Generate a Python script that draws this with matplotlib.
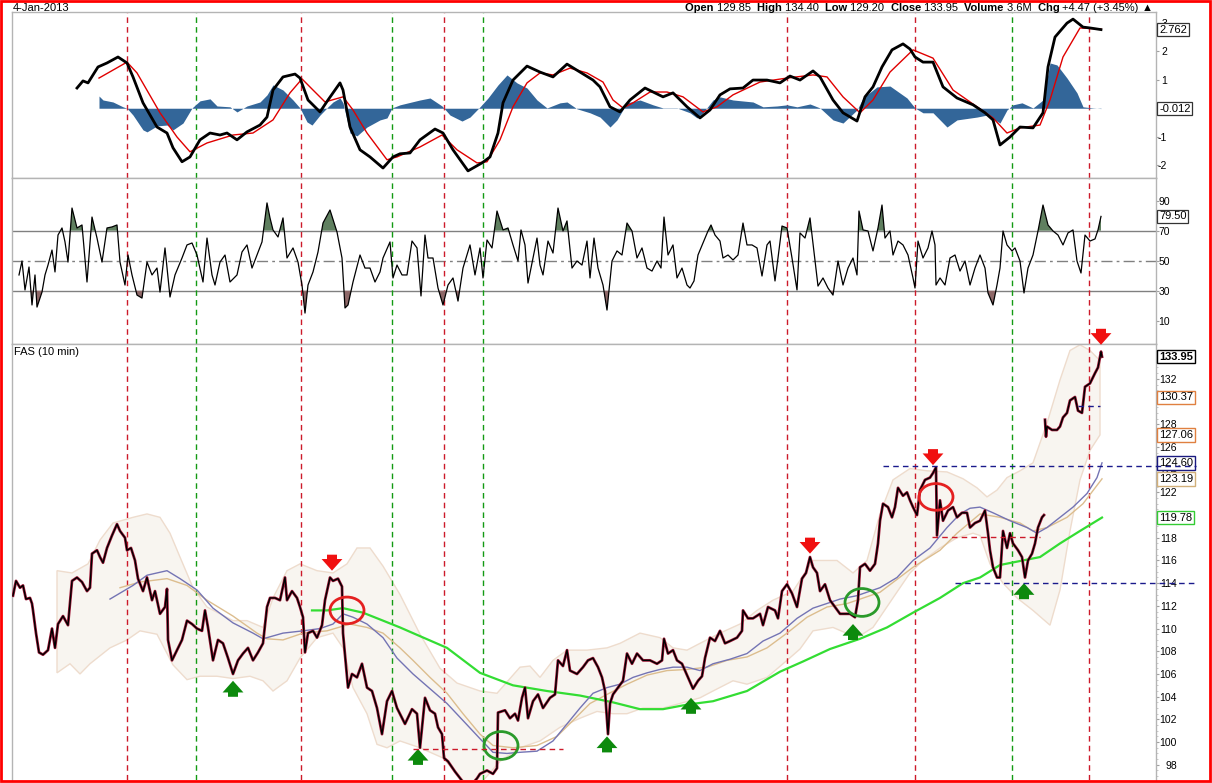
import numpy as np
import matplotlib
matplotlib.use('Agg')
import matplotlib.pyplot as plt
from matplotlib.patches import Ellipse, Rectangle

plt.rcParams['font.family'] = ['Liberation Sans', 'DejaVu Sans']

# ---------------- data ----------------
macd = [(77,0.71),(83,0.96),(88,0.89),(98,1.45),(107,1.59),(118,1.80),(127,1.59),(133,1.10),(143,0.19),
        (157,-0.66),(167,-0.87),(173,-1.39),(182,-1.88),(190,-1.71),(200,-1.11),(210,-0.87),(220,-0.94),
        (227,-0.87),(237,-1.11),(247,-0.83),(260,-0.59),(267,-0.31),(273,0.64),(283,1.10),(295,1.20),
        (300,1.06),(308,0.29),(320,-0.13),(328,0.29),(340,0.89),(343,0.64),(350,-0.66),(360,-1.46),
        (370,-1.71),(383,-2.10),(393,-1.71),(400,-1.60),(410,-1.57),(420,-1.11),(435,-0.73),(443,-0.87),
        (453,-1.46),(468,-2.20),(482,-1.92),(490,-1.71),(498,-0.87),(503,0.19),(513,0.99),(527,1.48),
        (540,1.27),(553,1.10),(567,1.55),(580,1.27),(593,0.99),(600,0.75),(610,0.05),(620,-0.13),
        (630,0.29),(645,0.71),(663,0.40),(673,0.54),(687,0.05),(700,-0.34),(710,-0.06),(720,0.47),
        (730,0.68),(743,0.71),(753,0.99),(767,0.99),(780,0.89),(790,1.13),(800,0.99),(813,1.31),
        (820,1.10),(833,0.29),(843,-0.16),(857,-0.45),(865,0.40),(873,0.75),(882,1.45),(892,2.05),
        (903,2.26),(910,2.08),(915,1.80),(923,1.62),(933,1.62),(943,0.75),(957,0.36),(973,0.12),
        (985,-0.16),(993,-0.41),(1000,-1.29),(1010,-1.01),(1020,-0.66),(1033,-0.69),(1043,-0.16),
        (1048,1.45),(1055,2.50),(1067,2.99),(1073,3.13),(1083,2.85),(1090,2.82),(1101,2.762)]

signal = [(99,1.06),(127,1.62),(137,1.24),(160,-0.16),(177,-1.01),(190,-1.53),(207,-1.22),(233,-0.94),
          (253,-0.87),(273,-0.41),(290,0.54),(302,1.03),(313,0.64),(325,0.22),(343,0.40),(353,-0.06),
          (367,-0.87),(387,-1.81),(397,-1.71),(420,-1.36),(442,-0.94),(457,-1.46),(477,-1.92),
          (487,-1.88),(500,-1.11),(513,0.05),(527,0.89),(540,1.24),(553,1.17),(570,1.41),(587,1.24),
          (603,0.92),(613,0.29),(623,0.01),(633,0.19),(650,0.57),(667,0.57),(683,0.40),(703,-0.13),
          (717,0.05),(733,0.47),(760,0.92),(787,1.06),(813,1.17),(827,1.10),(843,0.40),(860,-0.16),
          (873,0.29),(890,1.27),(913,2.05),(933,1.76),(953,0.64),(977,0.05),(993,-0.34),(1007,-0.87),
          (1020,-0.69),(1040,-0.59),(1050,0.29),(1063,1.80),(1080,2.82),(1101,2.78)]

histogram = [(99,0.43),(103,0.29),(113,0.22),(123,0.05),(127,0.0),(133,-0.24),(143,-0.76),(147,-0.83),
             (157,-0.62),(167,-0.59),(173,-0.76),(183,-0.52),(192,0.01),(200,0.26),(210,0.33),(217,0.08),
             (230,0.05),(237,-0.13),(247,0.08),(260,0.22),(267,0.47),(273,0.82),(283,0.64),(293,0.29),
             (300,0.01),(307,-0.48),(312,-0.59),(320,-0.24),(328,0.05),(333,0.22),(340,0.36),(343,0.19),
             (350,-0.87),(357,-0.97),(367,-0.66),(380,-0.41),(387,-0.34),(392,0.01),(400,0.12),(420,0.29),
             (430,0.36),(442,0.08),(450,-0.24),(462,-0.45),(470,-0.31),(480,0.05),(488,0.36),(498,0.82),
             (507,1.17),(517,0.89),(527,0.71),(537,0.29),(547,0.01),(560,0.19),(567,0.22),(577,-0.02),
             (590,-0.16),(600,-0.31),(610,-0.66),(617,-0.41),(627,0.19),(640,0.29),(653,0.12),(663,0.01),
             (677,0.01),(690,-0.16),(697,-0.34),(703,-0.16),(713,0.29),(720,0.40),(733,0.29),(753,0.22),
             (763,0.05),(777,0.08),(787,0.12),(797,0.05),(810,0.15),(820,0.01),(833,-0.41),(843,-0.52),
             (857,-0.06),(863,0.36),(877,0.75),(890,0.78),(907,0.36),(915,0.01),(923,-0.16),(933,-0.16),
             (947,-0.66),(957,-0.41),(977,-0.31),(987,-0.24),(1000,-0.52),(1007,-0.06),(1013,0.12),
             (1022,0.19),(1033,0.01),(1043,0.29),(1050,1.59),(1057,1.52),(1067,1.06),(1077,0.54),
             (1083,0.05),(1093,0.01),(1101,-0.012)]

rsi = [(19,40.5),(22,49.8),(25,30.5),(29,45.8),(32,20.5),(35,40.5),(37,19.1),(42,29.1),(45,40.5),(48,47.1),
       (52,57.1),(55,42.5),(58,67.1),(62,71.8),(65,62.5),(68,49.1),(72,85.1),(77,71.8),(82,73.8),(87,35.8),
       (92,79.1),(97,65.1),(102,49.1),(107,71.8),(112,72.5),(117,73.8),(120,49.1),(125,33.8),(128,53.8),
       (132,40.5),(137,27.1),(142,25.1),(147,49.1),(152,40.5),(157,45.1),(160,29.1),(165,58.5),(170,25.8),
       (175,40.5),(182,51.8),(187,60.5),(192,61.8),(197,53.8),(203,35.8),(207,65.1),(212,40.5),(215,33.8),
       (220,49.1),(225,53.8),(230,35.8),(237,40.5),(242,55.8),(247,60.5),(252,45.1),(257,53.8),(262,62.5),
       (267,88.5),(270,78.5),(273,70.5),(278,65.8),(283,78.5),(287,51.8),(293,58.5),(298,49.1),(302,33.8),
       (305,15.1),(308,33.8),(313,42.5),(318,55.8),(323,75.1),(330,83.8),(337,69.1),(342,51.8),(345,18.5),
       (348,20.5),(353,35.8),(360,53.8),(365,45.1),(370,45.1),(375,35.8),(380,42.5),(383,51.8),(390,62.5),
       (393,38.5),(397,47.1),(402,40.5),(407,40.5),(412,63.1),(417,58.5),(421,26.5),(425,67.1),(428,51.8),
       (433,51.8),(438,31.8),(443,20.5),(448,33.8),(453,38.5),(458,23.1),(463,45.1),(470,60.5),(475,40.5),
       (480,58.5),(483,38.5),(487,63.8),(492,58.5),(497,83.1),(503,70.5),(508,71.8),(513,60.5),(518,49.8),
       (521,70.5),(525,60.5),(528,35.1),(533,51.8),(537,65.1),(540,47.1),(543,40.5),(548,63.1),(553,55.1),
       (558,85.1),(563,69.8),(567,76.5),(572,45.1),(577,49.8),(582,47.1),(587,63.1),(590,38.5),(594,65.1),
       (598,45.1),(603,33.8),(607,17.1),(612,49.8),(617,56.5),(622,53.8),(627,75.1),(632,69.8),(637,51.8),
       (642,58.5),(647,45.1),(652,43.1),(657,49.8),(661,45.1),(664,79.1),(668,53.8),(673,60.5),(677,38.5),
       (682,45.1),(687,33.8),(690,31.8),(694,36.5),(698,53.8),(703,61.8),(708,69.8),(711,73.8),(715,67.1),
       (720,63.1),(723,51.8),(728,53.8),(733,50.5),(738,53.8),(743,75.1),(747,60.5),(752,60.5),(757,58.5),
       (762,39.8),(767,60.5),(770,63.1),(775,36.5),(778,51.8),(782,73.1),(787,71.8),(792,51.8),(797,30.5),
       (800,68.5),(805,65.1),(810,78.5),(815,49.8),(818,33.1),(823,38.5),(828,31.8),(833,27.1),(838,49.8),
       (843,33.8),(848,45.1),(853,51.8),(857,40.5),(859,83.1),(863,70.5),(868,69.8),(873,56.5),(878,71.8),
       (882,87.1),(885,65.1),(890,69.8),(893,53.8),(898,63.1),(903,60.5),(908,53.8),(913,38.5),(915,31.8),
       (918,63.1),(923,51.8),(928,58.5),(932,69.8),(935,60.5),(936,33.8),(940,38.5),(945,33.8),(950,51.8),
       (955,53.8),(960,43.1),(965,49.8),(970,33.8),(975,45.1),(980,53.8),(985,45.1),(988,28.5),(993,20.5),
       (997,33.8),(1000,45.1),(1003,69.8),(1007,60.5),(1012,56.5),(1015,58.5),(1020,49.8),(1024,28.5),
       (1028,45.1),(1033,53.8),(1038,69.8),(1043,87.1),(1048,73.8),(1053,69.8),(1058,67.1),(1063,60.5),
       (1068,68.5),(1073,70.5),(1077,49.8),(1081,41.8),(1085,67.1),(1090,63.1),(1095,64.5),(1098,70.5),
       (1101,79.5)]

price_a = [(13,112.9),(16,114.2),(20,113.6),(23,113.8),(26,112.6),(30,112.7),(32,112.2),(33,111.6),(36,109.6),
           (39,107.9),(43,107.7),(48,108.1),(52,110.0),(55,108.3),(58,110.4),(63,111.1),(68,110.3),(72,114.2),
           (77,114.5),(82,114.1),(87,113.3),(90,113.6),(92,116.6),(97,116.9),(100,116.3),(103,115.8),(107,117.1),
           (112,118.2),(117,119.2),(120,118.6),(125,118.0),(127,116.9),(131,117.1),(135,116.0),(138,114.4),
           (143,113.3),(147,114.5),(152,112.5),(155,113.3),(160,111.3),(165,111.9),(167,113.5),(168,109.0),
           (172,107.2),(177,108.1),(182,109.0),(187,110.7),(192,110.4),(197,110.0),(202,109.8),(205,111.6),
           (208,110.1),(213,107.2),(218,109.0),(223,108.7),(228,107.4),(233,106.0),(238,107.2),(243,107.8),
           (248,108.3),(253,107.2),(258,107.9),(263,108.7),(267,111.9),(270,112.7),(275,112.7),(280,112.5),
           (285,114.5),(287,112.5),(292,113.3),(297,112.7),(300,111.9),(303,111.0),(305,107.9),(308,109.6),
           (313,109.8),(317,109.2),(322,110.3),(325,112.5),(330,114.5),(333,114.2),(338,114.4),(342,113.7),
           (343,109.6),(348,104.8),(352,106.0),(357,105.7),(362,106.9),(367,104.8),(372,104.5),(377,103.0),
           (382,100.7),(387,103.6),(392,104.5),(397,103.0),(405,101.6),(412,102.9),(417,102.5),(420,99.5),
           (425,103.9),(430,102.8),(435,102.5),(438,101.3),(442,100.7),(444,98.6),(448,98.3),(455,97.4),
           (462,96.6),(470,96.1),(477,96.8),(480,97.2),(487,97.5),(493,97.2),(497,97.7),(498,102.6),
           (505,102.8),(510,102.1),(515,102.5),(518,101.9),(522,103.9),(525,104.8),(528,102.1),(533,103.6),
           (538,104.2),(543,103.0),(550,103.9),(555,104.2),(558,107.2),(563,106.7),(567,108.1),(570,106.3),
           (577,106.0),(583,106.6),(588,107.2),(593,107.4),(598,106.6),(602,105.7),(605,104.5),(608,100.7),
           (610,103.4),(613,104.2),(618,104.8),(623,105.4),(627,107.8),(632,106.9),(637,107.8),(643,107.2),
           (650,107.2),(657,106.9),(662,107.2),(664,109.1),(668,107.8),(673,108.1),(677,107.2),(682,106.9),
           (688,105.7),(693,104.7),(698,105.4),(702,105.8),(705,107.4),(710,109.2),(715,108.9),(720,109.8),
           (725,108.7),(730,108.9),(737,109.2),(742,109.8),(743,111.6),(748,110.9),(753,110.9),(760,111.3),
           (763,110.3),(768,111.9),(775,111.6),(778,110.9),(782,113.3),(787,113.9),(792,113.1),(797,111.9),
           (802,114.4),(806,114.9),(810,116.3),(813,115.4),(817,114.9),(820,113.3),(825,113.9),(830,112.5),
           (835,111.9),(840,111.3),(845,111.3),(850,111.3),(855,111.0),(858,112.5),(860,115.4),(865,115.7),
           (870,115.1),(875,115.7),(878,117.5),(880,119.5),(883,121.0),(888,120.7),(892,119.8),(895,120.7),
           (898,122.4),(903,121.7),(907,122.0),(910,121.3),(913,120.7),(917,120.0),(920,122.2),(925,123.1),
           (930,123.3),(933,123.7),(936,124.2),(937,118.2),(940,121.3),(943,119.5),(948,120.4),(953,120.7),
           (957,119.8),(962,120.2),(967,120.2),(970,118.9),(975,119.3),(980,119.5),(985,120.4),(988,118.4),
           (990,116.9),(993,115.4),(997,114.5),(1000,114.5),(1003,118.6),(1007,117.1),(1010,118.4),
           (1013,117.5),(1018,116.9),(1022,116.3),(1025,114.5),(1028,116.0),(1032,116.6),(1035,117.5),
           (1038,118.9),(1042,119.8),(1044,120.0)]
price_b = [(1045,128.4),(1046,126.9),(1047,127.8),(1052,127.5),(1057,127.5),(1060,127.8),(1063,128.6),
           (1067,129.0),(1070,130.1),(1075,130.4),(1078,129.2),(1082,129.0),(1085,131.3),(1090,131.6),
           (1095,132.5),(1098,133.0),(1101,134.4),(1102,133.95)]

ma_blue = [(110,112.6),(133,113.8),(147,114.7),(167,115.1),(180,114.4),(197,113.4),(213,111.8),(233,110.5),
           (253,109.6),(263,109.1),(283,109.6),(303,109.8),(320,110.0),(333,110.4),(343,111.3),(353,111.0),
           (367,110.4),(383,109.2),(397,107.4),(413,106.0),(430,104.7),(447,103.4),(463,101.9),(480,100.3),
           (493,99.1),(507,99.0),(520,99.1),(537,99.2),(553,100.1),(567,101.6),(580,103.0),(593,104.3),
           (607,104.8),(620,105.1),(633,105.7),(647,106.1),(660,106.4),(673,106.6),(687,106.6),(700,106.3),
           (713,106.9),(730,107.3),(747,107.8),(763,108.9),(780,109.6),(797,110.9),(813,111.8),(830,112.3),
           (840,112.6),(857,112.9),(880,113.6),(897,114.5),(913,116.0),(930,117.1),(947,118.9),(960,120.1),
           (970,120.6),(980,120.7),(993,120.2),(1010,119.5),(1027,118.9),(1037,118.4),(1047,118.9),
           (1060,119.8),(1073,120.7),(1087,121.9),(1097,123.3),(1102,124.6)]

ma_tan = [(120,113.6),(140,114.1),(167,114.4),(187,113.8),(207,112.5),(233,111.1),(257,109.6),(267,109.1),
          (283,109.0),(303,109.6),(327,109.8),(350,110.4),(367,110.1),(383,109.6),(400,108.3),(413,107.2),
          (430,105.7),(447,104.3),(463,102.5),(480,100.7),(493,99.7),(513,99.5),(537,99.7),(557,100.5),
          (573,101.9),(590,103.4),(607,104.2),(627,105.1),(647,105.9),(667,106.3),(687,106.4),(707,106.6),
          (727,107.2),(747,107.5),(767,108.3),(787,109.6),(807,111.0),(827,111.9),(847,112.2),(880,113.2),
          (913,115.4),(940,116.9),(957,118.4),(980,120.1),(1000,119.8),(1020,119.3),(1033,118.6),(1047,118.9),
          (1067,119.8),(1083,121.0),(1102,123.19)]

ma_green = [(312,111.6),(327,111.6),(343,111.8),(363,111.4),(383,110.7),(400,110.1),(413,109.6),(447,108.3),
            (480,106.1),(513,105.0),(547,104.5),(580,104.1),(613,103.5),(640,102.9),(663,102.9),(687,103.3),
            (713,103.6),(747,104.5),(780,106.2),(803,107.1),(830,108.2),(860,109.1),(887,110.1),(913,111.4),
            (940,112.7),(963,114.0),(980,114.5),(1000,115.6),(1040,116.3),(1060,117.5),(1080,118.6),(1102,119.78)]

bb_upper = [(57,115.1),(72,114.9),(88,115.7),(100,117.8),(113,119.3),(133,119.8),(147,120.1),(160,119.8),
            (170,118.4),(180,116.3),(193,113.6),(207,111.9),(220,111.3),(233,110.7),(247,110.7),(263,110.1),
            (273,112.7),(287,115.1),(300,115.7),(317,115.1),(333,114.9),(347,115.7),(357,117.1),(370,117.1),
            (383,115.5),(400,113.0),(420,109.5),(440,106.5),(457,105.2),(480,104.5),(497,104.3),(520,106.6),
            (530,106.7),(540,105.7),(553,107.2),(567,108.1),(587,108.1),(607,108.3),(620,108.7),(640,109.6),
            (660,109.2),(673,108.3),(687,108.1),(700,108.7),(720,109.6),(740,110.4),(757,111.6),(773,112.5),
            (793,113.3),(813,116.0),(837,116.0),(853,114.9),(867,116.0),(880,120.1),(893,123.1),(910,124.1),
            (927,123.9),(947,123.8),(963,123.2),(977,122.4),(987,121.6),(997,122.2),(1007,123.3),(1020,123.9),
            (1033,124.6),(1047,128.1),(1060,131.9),(1070,134.5),(1080,135.0),(1090,134.5),(1100,133.6)]

bb_lower = [(57,106.1),(70,106.9),(80,106.0),(90,106.9),(110,108.3),(127,109.0),(140,109.8),(157,109.5),
            (173,106.8),(187,105.5),(200,105.8),(217,105.8),(233,105.6),(250,105.8),(263,105.4),(273,104.5),
            (287,105.4),(300,107.4),(317,109.2),(333,109.6),(343,108.3),(353,104.8),(367,102.5),(377,99.8),
            (387,99.5),(400,100.1),(420,99.5),(443,98.6),(463,96.6),(483,96.6),(500,98.3),(520,99.5),
            (540,100.1),(560,101.3),(580,102.1),(597,102.7),(613,102.5),(627,102.5),(643,103.0),(663,103.0),
            (680,103.4),(700,103.9),(713,104.5),(733,105.4),(747,105.1),(767,105.7),(787,107.2),(800,108.2),
            (813,109.8),(833,110.1),(857,109.2),(873,110.1),(893,112.7),(910,114.9),(923,116.0),(940,117.1),
            (957,118.0),(973,118.4),(980,118.2),(990,115.7),(1003,114.0),(1017,112.7),(1033,111.6),
            (1050,110.3),(1060,113.4),(1070,118.6),(1080,123.1),(1090,125.7),(1100,127.06)]

red_vlines = [127, 301, 444, 787, 915, 1089]
green_vlines = [196, 392, 483, 1012]

sell_x = [332, 810, 933, 1101]
sell_y = [115.1, 116.6, 124.4, 135.0]
buy_x = [233, 418, 607, 691, 853, 1024]
buy_y = [105.4, 99.4, 100.5, 103.9, 110.4, 114.0]

red_circles = [(347, 111.6), (936, 121.6)]
green_circles = [(501, 99.7), (862, 112.3)]

red_levels = [(413, 563, 99.4), (932, 1040, 118.1)]
blue_levels = [(883, 1196, 124.3), (955, 1196, 114.0), (1078, 1100, 129.6)]

price_ticks = [98, 100, 102, 104, 106, 108, 110, 112, 114, 116, 118, 122, 124, 126, 128, 132]
macd_ticks = [-2, -1, 1, 2, 3]
rsi_ticks = [10, 30, 50, 70, 90]

price_tags = [(133.95, '133.95', 'black', True),
              (130.37, '130.37', '#e08040', False), (127.06, '127.06', '#e08040', False),
              (124.60, '124.60', '#1a1a80', False), (123.19, '123.19', '#d2b07a', False),
              (119.78, '119.78', '#33cc33', False)]
macd_tags = [(2.762, '2.762'), (-0.012, '-0.012')]
rsi_tags = [(79.50, '79.50')]

header = [('Open ', True), ('129.85  ', False), ('High ', True), ('134.40  ', False), ('Low ', True),
          ('129.20  ', False), ('Close ', True), ('133.95  ', False), ('Volume ', True), ('3.6M  ', False),
          ('Chg ', True), ('+4.47 (+3.45%) ', False), ('\u25b2', False)]


def xy(pairs):
    a = np.array(pairs, dtype=float)
    return a[:, 0], a[:, 1]


# ---------------- figure ----------------
W, H = 1212, 783
fig = plt.figure(figsize=(W / 100, H / 100), dpi=100)
fig.patch.set_facecolor('white')


def px_axes(x0, y0, x1, y1):
    return fig.add_axes([x0 / W, 1 - y1 / H, (x1 - x0) / W, (y1 - y0) / H])


ax1 = px_axes(12, 12, 1156, 178)
ax2 = px_axes(12, 178, 1156, 344)
ax3 = px_axes(12, 344, 1156, 780)

DASH = (0, (4, 3))
for ax in (ax1, ax2, ax3):
    ax.set_xlim(12, 1156)
    ax.set_xticks([])
    ax.yaxis.tick_right()
    for s in ax.spines.values():
        s.set_color('#b4b4b4')
        s.set_linewidth(1)
    for xv in red_vlines:
        ax.axvline(xv, color='#cc1a2a', lw=1, ls=DASH, zorder=1.6)
    for xv in green_vlines:
        ax.axvline(xv, color='#139a13', lw=1, ls=DASH, zorder=1.6)
ax3.spines['bottom'].set_visible(False)

# ---- MACD panel ----
ax1.set_ylim(-2.45, 3.38)
hx, hv = xy(histogram)
ax1.fill_between(hx, 0, hv, color='#336699', lw=0, zorder=2)
sx, sv = xy(signal)
ax1.plot(sx, sv, color='#e00000', lw=1.0, zorder=3)
mx, mv = xy(macd)
ax1.plot(mx, mv, color='black', lw=2.0, zorder=4)
ax1.set_yticks(macd_ticks, labels=[str(v) for v in macd_ticks], ha='right')
ax1.tick_params(axis='y', colors='#a0a0a0', labelcolor='black', labelsize=7.5, length=2, width=0.8, pad=6)
for v, t in macd_tags:
    ax1.annotate(t, xy=(1, v), xycoords=('axes fraction', 'data'), xytext=(3, 0),
                 textcoords='offset pixels', ha='left', va='center', fontsize=8,
                 bbox=dict(boxstyle='square,pad=0.15', fc='white', ec='#333333', lw=0.9),
                 annotation_clip=False, zorder=6)

# ---- RSI panel ----
ax2.set_ylim(-5.5, 105.1)
for lvl in (70, 30):
    ax2.axhline(lvl, color='#808080', lw=1, zorder=1.5)
ax2.axhline(50, color='#808080', lw=1, ls=(0, (8, 3, 2, 3)), zorder=1.5)
rx, rv = xy(rsi)
ax2.fill_between(rx, rv, 70, where=rv > 70, interpolate=True, color='#5f7f5f', lw=0, zorder=2)
ax2.fill_between(rx, rv, 30, where=rv < 30, interpolate=True, color='#8e6868', lw=0, zorder=2)
ax2.plot(rx, rv, color='black', lw=0.9, zorder=3)
ax2.set_yticks(rsi_ticks, labels=[str(v) for v in rsi_ticks], ha='right')
ax2.tick_params(axis='y', colors='#a0a0a0', labelcolor='black', labelsize=7.5, length=2, width=0.8, pad=8)
for v, t in rsi_tags:
    ax2.annotate(t, xy=(1, v), xycoords=('axes fraction', 'data'), xytext=(3, 0),
                 textcoords='offset pixels', ha='left', va='center', fontsize=8,
                 bbox=dict(boxstyle='square,pad=0.15', fc='white', ec='#333333', lw=0.9),
                 annotation_clip=False, zorder=6)

# ---- price panel ----
ax3.set_ylim(96.66, 135.07)
ux, uv = xy(bb_upper)
lx, lv = xy(bb_lower)
ax3.fill(np.r_[ux, lx[::-1]], np.r_[uv, lv[::-1]], fc='#f8f5f0', ec='#eedccd', lw=1, zorder=1)

gx, gv = xy(ma_green)
ax3.plot(gx, gv, color='#33dd33', lw=1.6, zorder=2.2)
tx, tv = xy(ma_tan)
ax3.plot(tx, tv, color='#dcbd8e', lw=1.0, zorder=2.1)
bx, bv = xy(ma_blue)
ax3.plot(bx, bv, color='#7474b4', lw=1.0, zorder=2.2)

for seg in (price_a, price_b):
    px_, pv_ = xy(seg)
    ax3.plot(px_, pv_, color='#a01838', lw=2.0, zorder=3)
    ax3.plot(px_, pv_, color='black', lw=1.0, zorder=3.1)

for x0, x1, yv in red_levels:
    ax3.plot([x0, x1], [yv, yv], color='#cc1a2a', lw=1, ls=DASH, zorder=6, clip_on=False)
for x0, x1, yv in blue_levels:
    ax3.plot([x0, x1], [yv, yv], color='#1a1a8c', lw=1, ls=DASH, zorder=6, clip_on=False)

arrow_style = 'simple,head_width=0.75,head_length=0.42,tail_width=0.36'
for x, y in zip(sell_x, sell_y):
    ax3.annotate('', xy=(x, y), xytext=(0, 16), textcoords='offset pixels',
                 arrowprops=dict(arrowstyle=arrow_style, fc='#f01010', ec='#f01010', lw=0,
                                 mutation_scale=20, shrinkA=0, shrinkB=0),
                 annotation_clip=False, zorder=5)
for x, y in zip(buy_x, buy_y):
    ax3.annotate('', xy=(x, y), xytext=(0, -16), textcoords='offset pixels',
                 arrowprops=dict(arrowstyle=arrow_style, fc='#0d8a0d', ec='#0d8a0d', lw=0,
                                 mutation_scale=20, shrinkA=0, shrinkB=0),
                 annotation_clip=False, zorder=5)

for cx, cy in red_circles:
    ax3.add_patch(Ellipse((cx, cy), 34, 2.35, fill=False, ec='#e42020', lw=2, zorder=5))
for cx, cy in green_circles:
    ax3.add_patch(Ellipse((cx, cy), 34, 2.45, fill=False, ec='#2a9a2a', lw=2, zorder=5))

ax3.set_yticks(price_ticks, labels=[str(v) for v in price_ticks], ha='right')
ax3.set_yticks(np.arange(97, 135, 0.5), minor=True)
ax3.tick_params(axis='y', which='major', colors='#a0a0a0', labelcolor='black', labelsize=7.5,
                length=2, width=0.8, pad=13)
ax3.tick_params(axis='y', which='minor', colors='#c0c0c0', length=1.5, width=0.6)
for v, t, ec, bold in price_tags:
    ax3.annotate(t, xy=(1, v), xycoords=('axes fraction', 'data'), xytext=(3, 0),
                 textcoords='offset pixels', ha='left', va='center', fontsize=8,
                 fontweight='bold' if bold else 'normal',
                 bbox=dict(boxstyle='square,pad=0.15', fc='white', ec=ec, lw=1.0),
                 annotation_clip=False, zorder=5.5)

ax3.annotate('FAS (10 min)', xy=(0, 1), xycoords='axes fraction', xytext=(2, -3),
             textcoords='offset pixels', ha='left', va='top', fontsize=8)

# ---- header ----
fig.text(13 / W, 1 - 11 / H, '4-Jan-2013', ha='left', va='baseline', fontsize=8)
renderer = fig.canvas.get_renderer()
texts = []
for s, b in header:
    texts.append(fig.text(0, 1 - 11 / H, s, ha='left', va='baseline', fontsize=8,
                          fontweight='bold' if b else 'normal'))
widths = [t.get_window_extent(renderer).width for t in texts]
xpos = 1153 - sum(widths)
for t, w in zip(texts, widths):
    t.set_x(xpos / W)
    xpos += w

# ---- red frame ----
fig.add_artist(Rectangle((1.2 / W, 2 / H), (1208.3 / W), (780 / H), transform=fig.transFigure,
                         fill=False, ec='#ff0000', lw=2.0, zorder=10))

fig.savefig('out.png', dpi=100, facecolor='white')
